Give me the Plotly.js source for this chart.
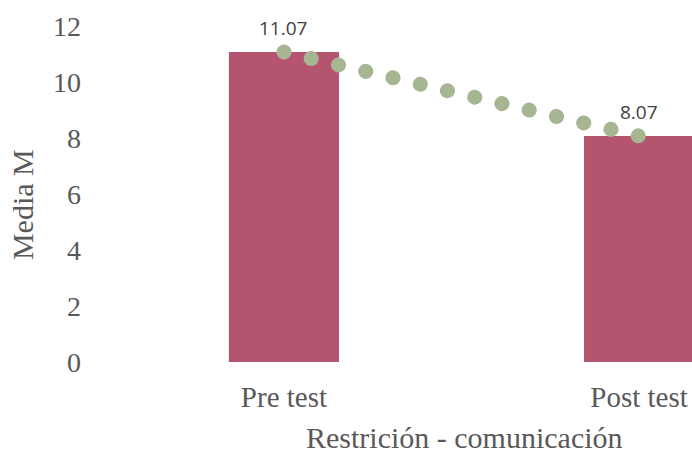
<!DOCTYPE html>
<html>
<head>
<meta charset="utf-8">
<script src="https://cdn.plot.ly/plotly-3.0.1.min.js"></script>
<style>
html,body{margin:0;padding:0;background:#fff;overflow:hidden;}
#chart{width:692px;height:454px;}
.scatterlayer path.js-line{stroke-linecap:round !important;}
</style>
</head>
<body>
<div id="chart"></div>
<script>
const categories = ["Pre test", "Post test"];
const means = [11.07, 8.07];
const meanLabels = ["11.07", "8.07"];
const yTicks = [0, 2, 4, 6, 8, 10, 12];
const xTitle = "Restrición - comunicación";
const yTitle = "Media M";

const barTrace = {
  type: "bar",
  x: categories,
  y: means,
  width: 0.31,
  marker: {color: "#b4546f"},
  hoverinfo: "skip",
  showlegend: false
};
const lineTrace = {
  type: "scatter",
  mode: "lines",
  x: categories,
  y: means,
  line: {color: "#a6b592", width: 15, dash: "0.1px,27.9px"},
  cliponaxis: false,
  hoverinfo: "skip",
  showlegend: false
};

const annotations = categories.map((c, i) => ({
  x: c, y: means[i], text: meanLabels[i], showarrow: false,
  yshift: 24, xshift: i === 0 ? -1 : 0,
  font: {family: "Open Sans, sans-serif", size: 19, color: "#404040"}
}));
annotations.push({
  xref: "paper", yref: "paper", x: 0.625, y: -0.226,
  xanchor: "center", yanchor: "middle", showarrow: false,
  text: xTitle,
  font: {family: "Liberation Serif, serif", size: 30, color: "#595959"}
});
annotations.push({
  xref: "paper", yref: "paper", x: -0.102, y: 0.47,
  xanchor: "center", yanchor: "middle", showarrow: false, textangle: -90,
  text: yTitle,
  font: {family: "Liberation Serif, serif", size: 30, color: "#595959"}
});

const layout = {
  width: 692, height: 454,
  margin: {l: 84, r: 0, t: 26, b: 92, pad: 0},
  paper_bgcolor: "#ffffff",
  plot_bgcolor: "#ffffff",
  font: {family: "Liberation Serif, serif", color: "#595959"},
  xaxis: {
    type: "category",
    range: [-0.563, 1.149],
    showgrid: false, zeroline: false, showline: false, ticks: "",
    tickfont: {size: 29, color: "#595959"},
    ticklabelstandoff: 15,
    automargin: false,
    fixedrange: true
  },
  yaxis: {
    range: [0, 12],
    tickvals: yTicks,
    ticktext: yTicks.map(String),
    showgrid: false, zeroline: false, showline: false, ticks: "",
    tickfont: {size: 28, color: "#595959"},
    ticklabelstandoff: 2,
    automargin: false,
    fixedrange: true
  },
  annotations: annotations
};

Plotly.newPlot("chart", [barTrace, lineTrace], layout, {displayModeBar: false, staticPlot: true});
</script>
</body>
</html>
